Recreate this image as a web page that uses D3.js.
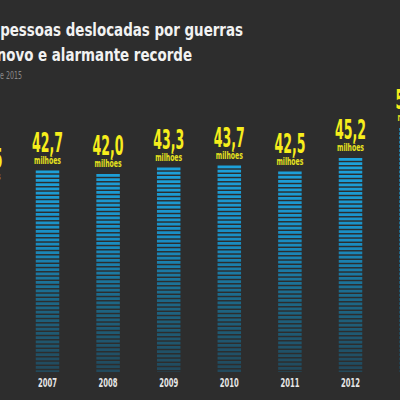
<!DOCTYPE html>
<html>
<head>
<meta charset="utf-8">
<script src="https://cdn.jsdelivr.net/npm/d3@7"></script>
<style>
  body { margin: 0; background: #2d2d2d; }
  text { font-family: "DejaVu Sans Condensed", "DejaVu Sans", sans-serif; }
</style>
</head>
<body>
<script>
var years = ["2006", "2007", "2008", "2009", "2010", "2011", "2012", "2013", "2014"];
var values = [39.5, 42.7, 42.0, 43.3, 43.7, 42.5, 45.2, 51.2, 59.5];
var titleLines = ["Número de pessoas deslocadas por guerras", "e conflitos atinge novo e alarmante recorde"];
var subtitle = "Fonte: ACNUR, junho de 2015";
var unit = "milhões";

var width = 400,
  height = 400,
  baseY = 372;

var svg = d3.select("body").append("svg")
  .attr("width", width)
  .attr("height", height);

svg.append("rect")
  .attr("width", width)
  .attr("height", height)
  .attr("fill", "#2d2d2d");

// no condensed display font here, so squeeze text horizontally to the reference widths
function measure(str, size, weight) {
  var t = svg.append("text")
    .attr("font-size", size)
    .attr("font-weight", weight)
    .text(str);
  var w = t.node().getComputedTextLength();
  t.remove();
  return w;
}

var titleScale = 243 / measure("pessoas deslocadas por guerras", 18, "bold");
var numScale = 31 / measure("42,7", 26, "bold");
var unitScale = 27 / measure(unit, 11, "bold");
var yearScale = 19 / measure("2007", 12.5, "bold");
var subScale = 22 / measure("e 2015", 10, "normal");

// title is cropped on the left in the original, so anchor it at the end
var titleEnds = [243, 192];
titleLines.forEach(function (t, i) {
  svg.append("text")
    .attr("transform", "translate(" + titleEnds[i] + "," + (35.5 + i * 25) + ") scale(" + titleScale + ",1)")
    .attr("text-anchor", "end")
    .attr("font-size", 18)
    .attr("font-weight", "bold")
    .attr("fill", "#f2f2f2")
    .text(t);
});

svg.append("text")
  .attr("transform", "translate(22,79) scale(" + subScale + ",1)")
  .attr("text-anchor", "end")
  .attr("font-size", 10)
  .attr("fill", "#8a8a8a")
  .text(subtitle);

var x = d3.scaleBand()
  .domain(years)
  .range([-43.4, -43.4 + 60.6 * years.length])
  .paddingInner(0.612)
  .paddingOuter(0.306);

var y = d3.scaleLinear()
  .domain([2.4, 60])
  .range([baseY, 84]);

var stripeColor = d3.scaleLinear()
  .domain([150, 240, 300, baseY])
  .range(["#1ea5df", "#1a8dc2", "#1d6786", "#22485a"]);

var fmt = d3.format(".1f");

var bar = svg.selectAll(".bar")
  .data(values)
  .enter()
  .append("g")
  .attr("class", "bar");

bar.each(function (d, i) {
  var g = d3.select(this);
  var top = y(d);
  var stripes = d3.range(top, baseY, 4.25);
  g.selectAll("rect")
    .data(stripes)
    .enter()
    .append("rect")
    .attr("x", x(years[i]))
    .attr("y", function (s) { return s; })
    .attr("width", x.bandwidth())
    .attr("height", function (s) { return Math.min(2.8, baseY - s); })
    .attr("fill", function (s) { return stripeColor(s); });
});

bar.append("text")
  .attr("transform", function (d, i) {
    return "translate(" + (x(years[i]) + x.bandwidth() / 2) + "," + (y(d) - 19) + ") scale(" + numScale + ",1)";
  })
  .attr("text-anchor", "middle")
  .attr("font-size", 26)
  .attr("font-weight", "bold")
  .attr("fill", "#f7ee1c")
  .text(function (d) { return fmt(d).replace(".", ","); });

bar.append("text")
  .attr("transform", function (d, i) {
    return "translate(" + (x(years[i]) + x.bandwidth() / 2) + "," + (y(d) - 7) + ") scale(" + unitScale + ",1)";
  })
  .attr("text-anchor", "middle")
  .attr("font-size", 11)
  .attr("font-weight", "bold")
  .attr("fill", "#e6e21e")
  .text(unit);

var xAxis = d3.axisBottom(x).tickSize(0).tickPadding(0);

var axis = svg.append("g")
  .attr("transform", "translate(0," + (baseY + 4) + ")")
  .call(xAxis);

axis.select(".domain").remove();
axis.selectAll("text")
  .attr("dy", null)
  .attr("y", 0)
  .attr("transform", "translate(0,11) scale(" + yearScale + ",1)")
  .attr("font-size", 12.5)
  .attr("font-weight", "bold")
  .attr("fill", "#e6e6e6")
  .style("font-family", "'DejaVu Sans Condensed', 'DejaVu Sans', sans-serif");
</script>
</body>
</html>
